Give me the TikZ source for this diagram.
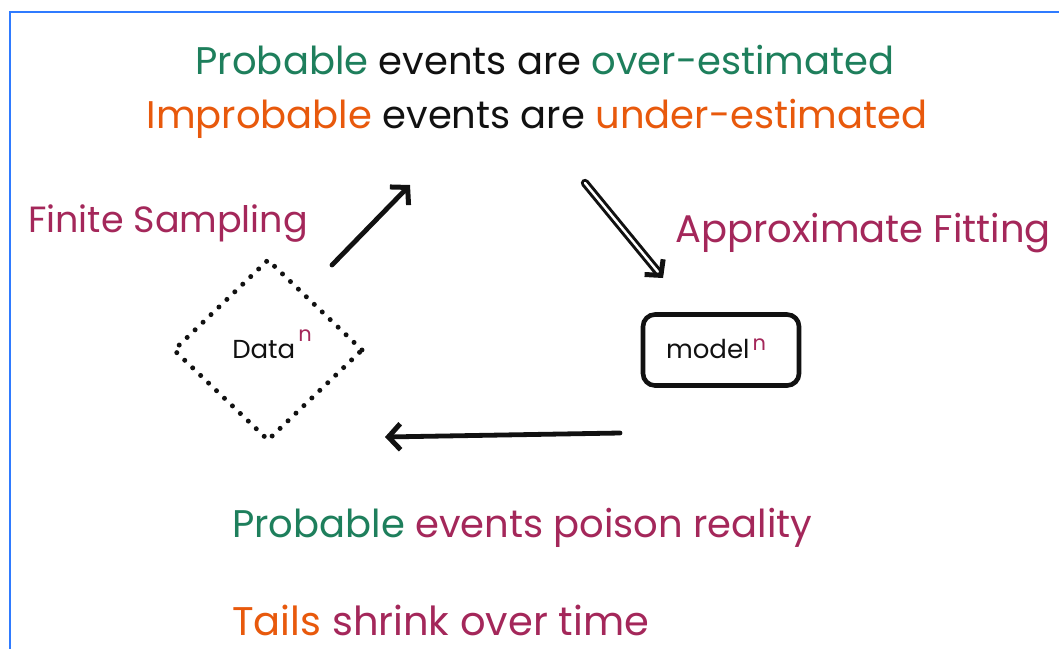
\documentclass[tikz,border=0pt]{standalone}
\usepackage{fontspec}
\setmainfont{Poppins}
\usetikzlibrary{arrows.meta,shapes.geometric}
\definecolor{lpgreen}{HTML}{1E7F5C}
\definecolor{lporange}{HTML}{E8590C}
\definecolor{lpplum}{HTML}{A4275A}
\definecolor{lpink}{HTML}{111111}
\definecolor{lpframe}{HTML}{2F7BFF}
\tikzset{
  lp text/.style={font=\fontsize{38.5}{44}\selectfont, text=lpink, inner sep=0pt},
  lp small/.style={font=\fontsize{26}{30}\selectfont, text=lpink, inner sep=0pt},
  lp data/.style={draw=lpink, shape=diamond, line width=5pt, line cap=round,
    dash pattern=on 0pt off 11pt, minimum width=190pt, minimum height=182pt, inner sep=0pt},
  lp model/.style={draw=lpink, line width=4.6pt, rounded corners=12pt,
    minimum width=156pt, minimum height=71pt, inner sep=0pt},
  lp arrow/.style={-{Straight Barb[length=12pt,width=26pt,line width=5pt]}, line width=4.8pt,
    draw=lpink, line cap=round},
  lp double/.style={-{Straight Barb[length=11pt,width=24pt,line width=5pt]}, double=white,
    double distance=2.4pt, line width=3pt, draw=lpink, line cap=round}
}
% raised exponent n of the loop nodes
\newcommand{\lpsup}[1]{\hspace{3pt}\raisebox{#1}{\textcolor{lpplum}{\fontsize{21}{21}\selectfont n}}}

\begin{document}
\begin{tikzpicture}[x=1pt, y=-1pt]
  \useasboundingbox (0,0) rectangle (1059,648);
  \fill[white] (0,0) rectangle (1059,648);
  \draw[lpframe, line width=2.5pt] (10,660) -- (10,12) -- (1070,12);

  % claims
  \node[lp text, anchor=base] (over) at (545,74)
    {\textcolor{lpgreen}{Probable} events are \textcolor{lpgreen}{over-estimated}};
  \node[lp text, anchor=base] (under) at (537,128)
    {\textcolor{lporange}{Improbable} events are \textcolor{lporange}{under-estimated}};

  % loop
  \node[lp data] (data) at (268,350) {};
  \node[lp small, anchor=base] (datatxt) at (272,358) {Data\lpsup{17pt}};
  \node[lp model] (model) at (721,350) {};
  \node[lp small, anchor=base] (modeltxt) at (716,358) {model\lpsup{8pt}};

  \node[lp text, text=lpplum, anchor=base west, font=\fontsize{36.5}{42}\selectfont]
    (sampling) at (28,232) {Finite Sampling};
  \node[lp text, text=lpplum, anchor=base west] (fitting) at (675,242) {Approximate Fitting};

  \coordinate (up a) at (332,265);
  \coordinate (up b) at (410,185);
  \coordinate (fit a) at (585,183);
  \coordinate (fit b) at (663,278);
  \coordinate (back a) at (620,433);
  \coordinate (back b) at (385,437);
  \draw[lp arrow] (up a) -- (up b);
  \draw[lp double] (fit a) -- (fit b);
  \draw[lp arrow] (back a) -- (back b);

  % consequences
  \node[lp text, text=lpplum, anchor=base west] (poison) at (232,537)
    {\textcolor{lpgreen}{Probable} events poison reality};
  \node[lp text, text=lpplum, anchor=base west, font=\fontsize{40}{46}\selectfont]
    (tails) at (232,635) {\textcolor{lporange}{Tails} shrink over time};
\end{tikzpicture}
\end{document}
